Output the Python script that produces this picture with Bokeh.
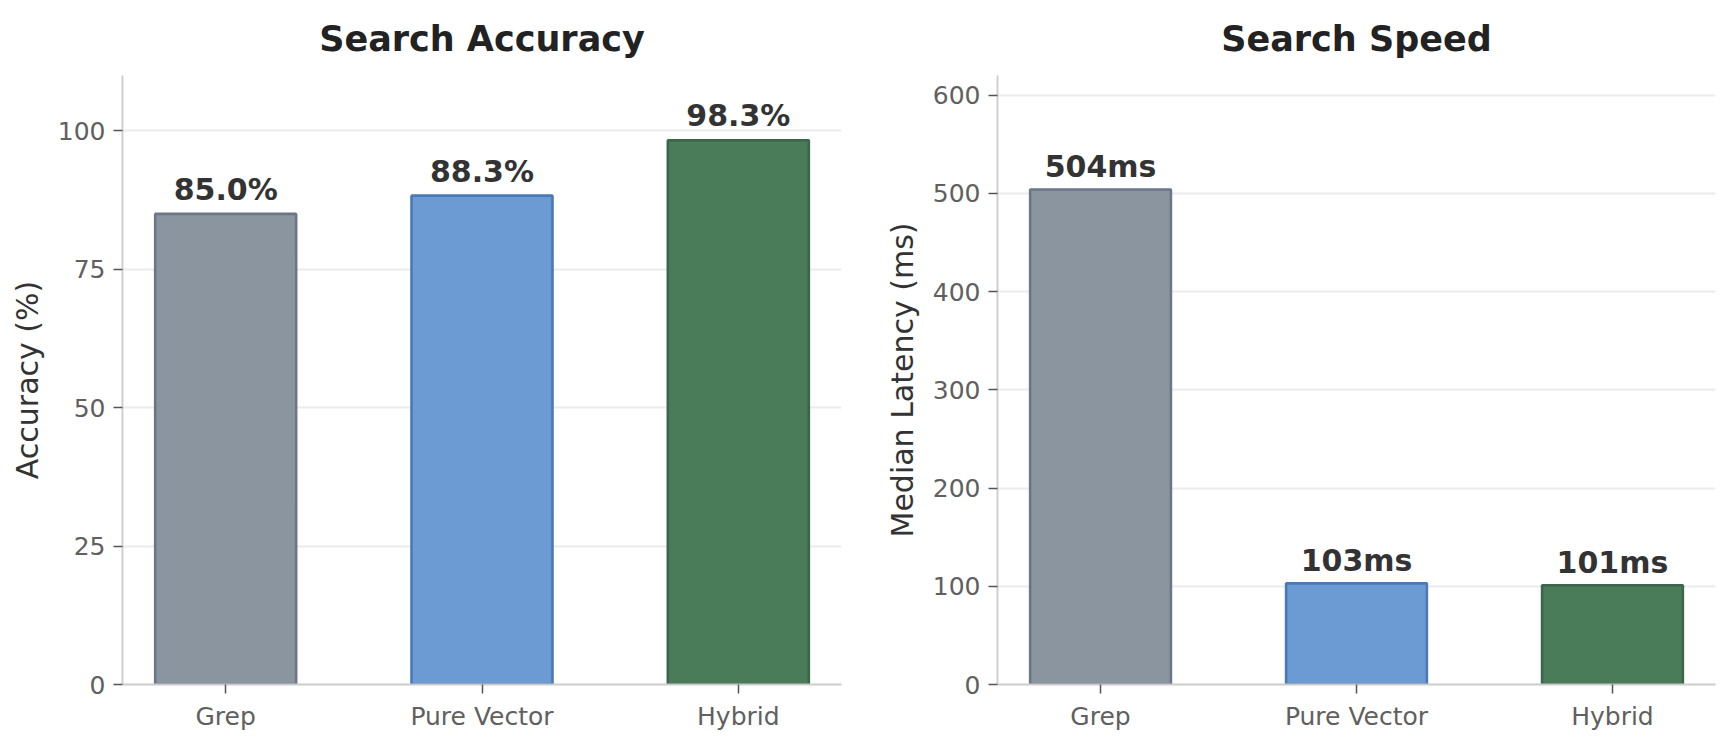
import bokeh.plotting as bplt
import bokeh.models as bmod
from bokeh.layouts import row
from bokeh.embed import file_html
from bokeh.resources import INLINE
from bokeh.core.properties import value

methods = ["Grep", "Pure Vector", "Hybrid"]
accuracy = [85.0, 88.3, 98.3]
latency = [504, 103, 101]
accuracy_labels = ["85.0%", "88.3%", "98.3%"]
latency_labels = ["504ms", "103ms", "101ms"]
accuracy_ticks = [0, 25, 50, 75, 100]
latency_ticks = [0, 100, 200, 300, 400, 500, 600]

fills = ["#8a95a0", "#6b9bd2", "#4a7c59"]
edges = ["#6b7787", "#4a7ab5", "#3b6649"]
FONT = "DejaVu Sans"


def bar_panel(title, ylabel, vals, labels, ticks, ymax, width, border_left, border_right):
    xs = list(range(len(methods)))
    src = bmod.ColumnDataSource(dict(
        x=xs, top=vals, fill=fills, edge=edges, label=labels,
        label_y=[v + 0.03 * max(vals) for v in vals],
    ))
    p = bplt.figure(
        width=width, height=744,
        x_range=(-0.4025, 2.4025), y_range=(0, ymax),
        output_backend="svg", toolbar_location=None,
        min_border_left=border_left, min_border_right=border_right,
        min_border_top=74, min_border_bottom=60,
    )
    p.outline_line_color = None
    p.title.text = title
    p.title.align = "center"
    p.title.text_font = FONT
    p.title.text_font_size = "35px"
    p.title.text_font_style = "bold"
    p.title.text_color = "#222222"
    p.title.standoff = 33

    p.vbar(x="x", top="top", width=0.55, source=src, fill_color="fill",
           line_color="edge", line_width=2.6)
    p.text(x="x", y="label_y", text="label", source=src, text_align="center",
           text_baseline="alphabetic", y_offset=-8, text_font=value(FONT),
           text_font_size="30px", text_font_style="bold", text_color="#333333")

    p.xgrid.grid_line_color = None
    p.ygrid.grid_line_color = "#ebebeb"
    p.ygrid.grid_line_width = 1.8

    p.xaxis.ticker = bmod.FixedTicker(ticks=xs)
    p.xaxis.major_label_overrides = {i: m for i, m in enumerate(methods)}
    p.yaxis.ticker = bmod.FixedTicker(ticks=ticks)
    p.yaxis.axis_label = ylabel
    for ax in (p.xaxis, p.yaxis):
        ax.axis_line_color = "#cccccc"
        ax.axis_line_width = 1.8
        ax.major_tick_line_color = "#555555"
        ax.major_tick_line_width = 1.5
        ax.major_tick_out = 9
        ax.major_tick_in = 0
        ax.minor_tick_line_color = None
        ax.major_label_text_font = FONT
        ax.major_label_text_font_size = "25px"
        ax.major_label_text_color = "#606060"
        ax.major_label_standoff = 8
        ax.axis_label_text_font = FONT
        ax.axis_label_text_font_size = "30px"
        ax.axis_label_text_font_style = "normal"
        ax.axis_label_text_color = "#333333"
        ax.axis_label_standoff = 10
    return p


left = bar_panel("Search Accuracy", "Accuracy (%)", accuracy, accuracy_labels,
                 accuracy_ticks, 110, 855, 122, 14)
right = bar_panel("Search Speed", "Median Latency (ms)", latency, latency_labels,
                  latency_ticks, 620, 873, 142, 13)

layout = row(left, right)
open("out.html", "w").write(file_html(layout, INLINE))
